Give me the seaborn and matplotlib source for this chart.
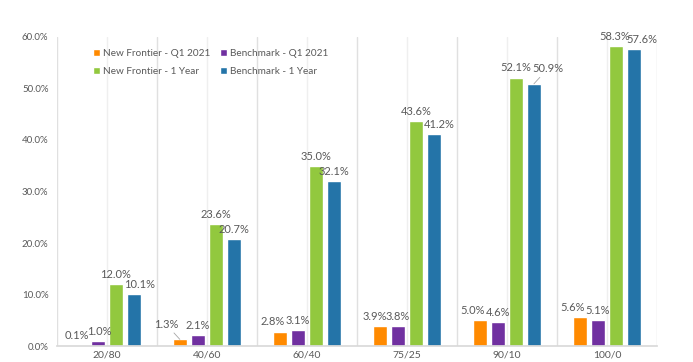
import numpy as np
import pandas as pd
import matplotlib
matplotlib.use("Agg")
import matplotlib.pyplot as plt
import seaborn as sns

# data
allocations = ["20/80", "40/60", "60/40", "75/25", "90/10", "100/0"]
series = ["New Frontier - Q1 2021", "Benchmark - Q1 2021",
          "New Frontier - 1 Year", "Benchmark - 1 Year"]
nf_q1 = [0.1, 1.3, 2.8, 3.9, 5.0, 5.6]
bm_q1 = [1.0, 2.1, 3.1, 3.8, 4.6, 5.1]
nf_1y = [12.0, 23.6, 35.0, 43.6, 52.1, 58.3]
bm_1y = [10.1, 20.7, 32.1, 41.2, 50.9, 57.6]
colors = ["#FF8A00", "#7030A0", "#92C83E", "#2474A8"]
yticks = [0, 10, 20, 30, 40, 50, 60]

df = pd.DataFrame({
    "alloc": allocations * 4,
    "series": np.repeat(series, len(allocations)),
    "value": nf_q1 + bm_q1 + nf_1y + bm_1y,
})

sns.set_theme(style="white")
plt.rcParams["font.family"] = ["Lato", "DejaVu Sans"]
TXT = "#595959"

fig = plt.figure(figsize=(6.93, 3.62), dpi=100)
ax = fig.add_axes([0.082, 0.044, 0.866, 0.854])

sns.barplot(data=df, x="alloc", y="value", hue="series", order=allocations,
            hue_order=series, palette=colors, saturation=1, width=0.72,
            gap=0.2, edgecolor="white", linewidth=1, ax=ax, zorder=2)

# label offsets (points) where the reference moved labels aside
shift = {(0, 0): (-2, 0), (1, 0): (1, 0),
         (0, 1): (-10, 4), (0, 2): (-5, 0), (0, 3): (-4, 0),
         (0, 4): (-5, 0), (0, 5): (-5, 0),
         (2, 5): (-1, 0),
         (3, 0): (4, 0), (3, 3): (4, 0), (3, 4): (10, 4), (3, 5): (6, 0)}
leaders = [(0, 1), (3, 4)]
for si, cont in enumerate(ax.containers):
    for ci, bar in enumerate(cont):
        x = bar.get_x() + bar.get_width() / 2
        h = bar.get_height()
        dx, dy = shift.get((si, ci), (0, 0))
        kw = {}
        if (si, ci) in leaders:
            kw["arrowprops"] = dict(arrowstyle="-", color="#A6A6A6", lw=0.6,
                                    shrinkA=0, shrinkB=0)
        ax.annotate(f"{h:.1f}%", (x, h), xytext=(dx, 3 + dy),
                    textcoords="offset points", ha="center", va="bottom",
                    fontsize=8, color=TXT, **kw)

ax.set_ylim(0, 60)
ax.set_xlim(-0.5, len(allocations) - 0.5)
ax.set_yticks(yticks)
ax.set_yticklabels([f"{t:.1f}%" for t in yticks])
ax.grid(False)
for x in np.arange(-0.5, len(allocations)):
    ax.axvline(x, color="#E0E0E0", lw=1, zorder=0)
for x in range(len(allocations)):
    ax.axvline(x, color="#EFEFEF", lw=1, zorder=0)
ax.tick_params(axis="y", labelsize=7, colors=TXT, length=0, pad=6)
ax.tick_params(axis="x", labelsize=7.5, colors=TXT, length=0, pad=3)
ax.set_xlabel("")
ax.set_ylabel("")
for s in ["top", "right", "left"]:
    ax.spines[s].set_visible(False)
ax.spines["bottom"].set_color("#D9D9D9")

# row-wise legend order
h, l = ax.get_legend_handles_labels()
order = [0, 2, 1, 3]
leg = ax.legend([h[i] for i in order], [l[i] for i in order],
                loc="upper left", bbox_to_anchor=(0.045, 0.99), ncol=2,
                frameon=False, fontsize=7.2, handlelength=0.7, handleheight=0.7,
                handletextpad=0.35, columnspacing=0.9, labelspacing=0.85)
for t in leg.get_texts():
    t.set_color(TXT)

fig.savefig("out.png", dpi=100)
